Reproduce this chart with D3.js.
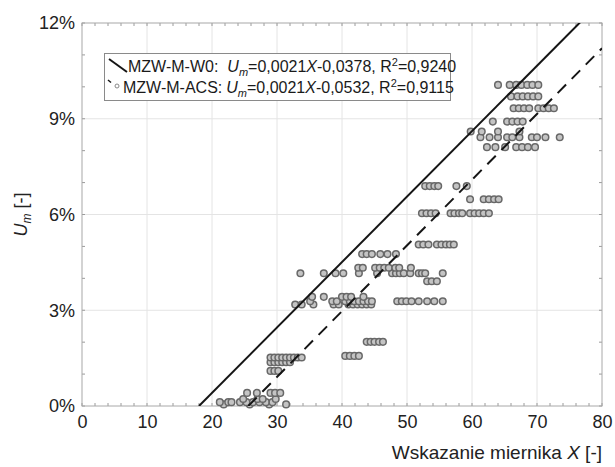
<!DOCTYPE html>
<html>
<head>
<meta charset="utf-8">
<script src="https://cdn.jsdelivr.net/npm/d3@7"></script>
<style>
  body { margin: 0; background: #fff; }
  svg { font-family: "Liberation Sans", Arial, sans-serif; }
</style>
</head>
<body>
<div id="chart"></div>
<script>
// chart size
var svgWidth = 615;
var svgHeight = 467;

var margin = { top: 23, right: 13, bottom: 61, left: 82 };
var chartWidth = svgWidth - margin.left - margin.right;
var chartHeight = svgHeight - margin.top - margin.bottom;

// axis ticks
var xTicks = [0, 10, 20, 30, 40, 50, 60, 70, 80];
var yTicks = [0, 0.03, 0.06, 0.09, 0.12];
var xMinorTicks = d3.range(0, 81, 2);
var yMinorTicks = d3.range(0, 0.1201, 0.01);

// measured points, grouped by U_m level (%), with their X readings
var levels = [0.05, 0.12, 0.22, 0.41, 1.1, 1.37, 1.52, 1.57, 2.01, 3.18, 3.28, 3.42,
  3.91, 4.16, 4.33, 4.76, 5.06, 6.04, 6.48, 6.89, 8.11, 8.42, 8.6, 8.91, 9.33, 9.7, 10.06];
var levelX = [
  [21.8, 25.8, 28.8, 31.4],
  [21.2, 22.5, 23.0, 24.3, 25.3, 26.3, 27.3, 28.3, 29.3],
  [24.8, 27.0, 27.8, 29.8],
  [25.4, 26.9, 29.0, 29.7, 30.5],
  [29.0, 29.6, 30.2],
  [29.0, 29.6, 30.2, 30.8, 31.4, 32.0],
  [29.0, 29.6, 30.2, 30.8, 31.4, 32.0, 32.6, 33.2, 33.8],
  [40.5, 41.2, 41.9, 42.6],
  [43.8, 44.4, 45.0, 45.7, 46.3],
  [32.8, 33.8, 35.6, 38.7, 39.5, 41.0, 41.7, 42.4, 43.1, 43.8, 44.5],
  [35.1, 38.5, 39.2, 40.5, 41.2, 41.9, 42.6, 43.3, 44.0, 44.6, 48.5, 49.2, 49.9, 50.7, 51.8, 53.1, 54.2, 55.5],
  [35.4, 37.2, 40.0, 40.7, 41.4, 43.3],
  [53.1, 53.8, 54.6],
  [33.6, 37.2, 39.0, 40.2, 42.6, 45.4, 47.7, 48.3, 48.9, 49.5, 50.5, 51.8, 52.3, 52.8, 55.5],
  [42.5, 43.2, 45.1, 45.8, 46.5, 47.2, 48.2, 48.8, 50.6],
  [43.1, 43.8, 44.6, 45.9, 47.0, 48.3],
  [51.8, 52.5, 53.3, 54.6, 55.3, 56.0, 56.6, 57.2],
  [52.3, 53.0, 53.7, 54.4, 56.7, 57.3, 58.0, 58.5, 59.7, 60.4, 61.1, 61.8, 62.6],
  [59.7, 61.8, 62.6, 63.4, 64.1],
  [52.8, 53.5, 54.2, 54.8, 57.6, 59.2],
  [62.3, 63.6, 65.1, 66.8, 67.7, 68.6, 69.7],
  [61.3, 62.7, 64.0, 65.4, 66.2, 67.3, 69.2, 70.0, 71.3, 73.5],
  [59.8, 61.5, 64.0, 67.3],
  [63.2, 65.4, 66.2, 67.0, 67.8],
  [66.4, 67.2, 68.0, 68.8, 70.2, 71.0, 71.8, 72.6],
  [66.0, 67.0, 67.8, 68.6, 69.4, 70.2],
  [64.0, 65.8, 66.8, 67.6, 68.5, 69.3, 70.2]
];

// regression lines as drawn: [slope, intercept]
var fitW0 = [0.00205, -0.0369];
var fitACS = [0.00206, -0.0527];

var svg = d3.select("#chart")
  .append("svg")
  .attr("width", svgWidth)
  .attr("height", svgHeight);

var x = d3.scaleLinear().domain([0, 80]).range([margin.left, margin.left + chartWidth]);
var y = d3.scaleLinear().domain([0, 0.12]).range([margin.top + chartHeight, margin.top]);

// grid
svg.append("g").selectAll("line")
  .data(xTicks.slice(1, -1))
  .enter().append("line")
  .attr("x1", d => x(d)).attr("x2", d => x(d))
  .attr("y1", y(0)).attr("y2", y(0.12))
  .attr("stroke", "#e4e4e4");
svg.append("g").selectAll("line")
  .data(yTicks.slice(1, -1))
  .enter().append("line")
  .attr("x1", x(0)).attr("x2", x(80))
  .attr("y1", d => y(d)).attr("y2", d => y(d))
  .attr("stroke", "#e4e4e4");

// minor ticks, drawn inward on all four sides
var tickCol = "#9a9a9a";
xMinorTicks.forEach(function(t) {
  svg.append("line").attr("x1", x(t)).attr("x2", x(t))
    .attr("y1", y(0)).attr("y2", y(0) - 3).attr("stroke", tickCol);
  svg.append("line").attr("x1", x(t)).attr("x2", x(t))
    .attr("y1", y(0.12)).attr("y2", y(0.12) + 3).attr("stroke", tickCol);
});
yMinorTicks.forEach(function(t) {
  svg.append("line").attr("x1", x(0)).attr("x2", x(0) + 3)
    .attr("y1", y(t)).attr("y2", y(t)).attr("stroke", tickCol);
  svg.append("line").attr("x1", x(80)).attr("x2", x(80) - 3)
    .attr("y1", y(t)).attr("y2", y(t)).attr("stroke", tickCol);
});

// frame
svg.append("rect")
  .attr("x", x(0)).attr("y", y(0.12))
  .attr("width", x(80) - x(0)).attr("height", y(0) - y(0.12))
  .attr("fill", "none").attr("stroke", "#a8a8a8");

// tick labels via axes (domain and tick lines hidden)
var xAxis = d3.axisBottom(x).tickValues(xTicks).tickSize(0).tickPadding(9);
var gx = svg.append("g").attr("transform", "translate(0," + y(0) + ")").call(xAxis);
var yAxis = d3.axisLeft(y).tickValues(yTicks).tickSize(0).tickPadding(7)
  .tickFormat(d => Math.round(d * 100) + "%");
var gy = svg.append("g").attr("transform", "translate(" + x(0) + ",0)").call(yAxis);
[gx, gy].forEach(function(g) {
  g.select(".domain").remove();
  g.selectAll("text").attr("font-size", 18).attr("fill", "#222")
    .attr("font-family", "Liberation Sans, Arial, sans-serif");
});

// clip for the fit lines
svg.append("clipPath").attr("id", "plotclip").append("rect")
  .attr("x", x(0)).attr("y", y(0.12))
  .attr("width", x(80) - x(0)).attr("height", y(0) - y(0.12));

function fitPoints(f) {
  var x0 = -f[1] / f[0];
  return [[x0, 0], [80, f[0] * 80 + f[1]]];
}
var line = d3.line().x(d => x(d[0])).y(d => y(d[1]));

// points
var pts = [];
levels.forEach(function(u, i) {
  levelX[i].forEach(function(v) { pts.push([v, u / 100]); });
});
svg.append("g").selectAll("circle")
  .data(pts)
  .enter().append("circle")
  .attr("cx", d => x(d[0]))
  .attr("cy", d => y(d[1]))
  .attr("r", 3.3)
  .attr("fill", "#c4c4c4")
  .attr("stroke", "#686868")
  .attr("stroke-width", 1.5);

svg.append("path").datum(fitPoints(fitW0))
  .attr("clip-path", "url(#plotclip)")
  .attr("d", line).attr("fill", "none")
  .attr("stroke", "#151515").attr("stroke-width", 2);
svg.append("path").datum(fitPoints(fitACS))
  .attr("clip-path", "url(#plotclip)")
  .attr("d", line).attr("fill", "none")
  .attr("stroke", "#151515").attr("stroke-width", 2)
  .attr("stroke-dasharray", "12,8");

// legend
var lg = svg.append("g");
lg.append("rect").attr("x", 104.5).attr("y", 53.5).attr("width", 346).attr("height", 47)
  .attr("fill", "#fff").attr("stroke", "#8a8a8a");
lg.append("line").attr("x1", 109).attr("y1", 59).attr("x2", 127).attr("y2", 72)
  .attr("stroke", "#151515").attr("stroke-width", 2);
lg.append("line").attr("x1", 108).attr("y1", 80).attr("x2", 111).attr("y2", 82.5)
  .attr("stroke", "#151515").attr("stroke-width", 1.5);
lg.append("circle").attr("cx", 117).attr("cy", 86).attr("r", 2)
  .attr("fill", "#fff").attr("stroke", "#888").attr("stroke-width", 1);

function legendText(xp, yp, name, gap, eq, r2) {
  var t = lg.append("text").attr("x", xp).attr("y", yp)
    .attr("font-size", 16).attr("fill", "#1a1a1a");
  t.append("tspan").text(name);
  t.append("tspan").attr("dx", gap).attr("font-style", "italic").text("U");
  t.append("tspan").attr("dy", 4).attr("font-size", 11).attr("font-style", "italic").text("m");
  t.append("tspan").attr("dy", -4).text(eq[0]);
  t.append("tspan").attr("font-style", "italic").text("X");
  t.append("tspan").text(eq[1] + ", R");
  t.append("tspan").attr("dy", -6).attr("font-size", 11).text("2");
  t.append("tspan").attr("dy", 6).text("=" + r2);
}
legendText(128, 72, "MZW-M-W0:", 9, ["=0,0021", "-0,0378"], "0,9240");
legendText(123, 93, "MZW-M-ACS:", 4, ["=0,0021", "-0,0532"], "0,9115");

// axis titles
var xt = svg.append("text").attr("x", x(80)).attr("y", 459)
  .attr("text-anchor", "end").attr("font-size", 19).attr("fill", "#222");
xt.append("tspan").text("Wskazanie miernika ");
xt.append("tspan").attr("font-style", "italic").text("X");
xt.append("tspan").text(" [-]");

var yt = svg.append("text")
  .attr("transform", "translate(27," + (y(0.06)) + ") rotate(-90)")
  .attr("text-anchor", "middle").attr("font-size", 18).attr("fill", "#222");
yt.append("tspan").attr("font-style", "italic").text("U");
yt.append("tspan").attr("dy", 4).attr("font-size", 12).attr("font-style", "italic").text("m");
yt.append("tspan").attr("dy", -4).text(" [-]");
</script>
</body>
</html>
